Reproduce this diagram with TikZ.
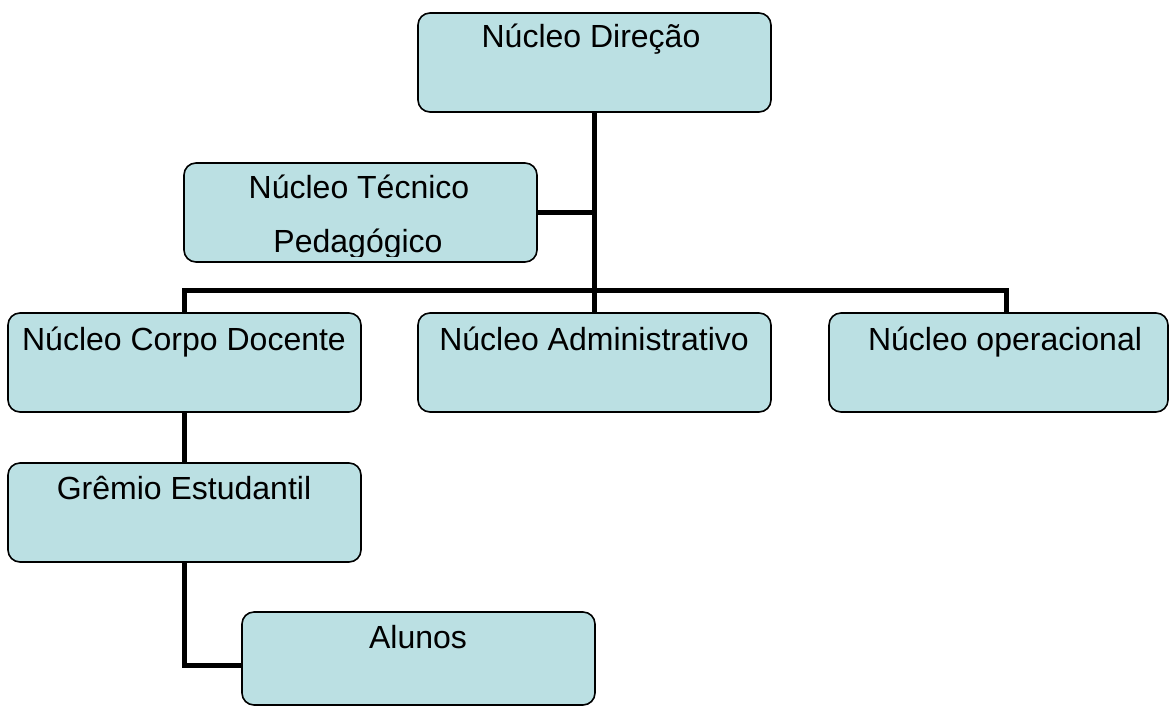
\documentclass[tikz,border=0pt]{standalone}
\usepackage{fontspec}
\setmainfont{Liberation Sans}
\usetikzlibrary{fit}
\definecolor{boxfill}{RGB}{187,224,227}
\begin{document}
\begin{tikzpicture}[x=0.5pt,y=-0.5pt,
  box/.style={draw=black, line width=0.8pt, fill=boxfill, rounded corners=6pt, inner sep=0pt},
  lbl/.style={font=\fontsize{16}{19}\selectfont, anchor=base, inner sep=0pt},
  conn/.style={line width=2.5pt, line join=miter}]
\useasboundingbox (0,0) rectangle (1170,707);
% boxes
\node[box, fit={(418,13) (771,112)}] (dir) {};
\node[box, fit={(184,163) (537,262)}] (tec) {};
\node[box, fit={(8,313) (361,412)}] (cd) {};
\node[box, fit={(418,313) (771,412)}] (adm) {};
\node[box, fit={(829,313) (1168,412)}] (op) {};
\node[box, fit={(8,463) (361,562)}] (gr) {};
\node[box, fit={(242,612) (595,705)}] (al) {};
% texts
\node[lbl] (dirT) at (591,47) {Núcleo Direção};
\node[lbl] (tecT1) at (359,198) {Núcleo Técnico};
\begin{scope}
  \clip (184,163) rectangle (537,256.5);
  \node[lbl] (tecT2) at (358,252) {Pedagógico};
\end{scope}
\node[lbl] (cdT) at (184,350) {Núcleo Corpo Docente};
\node[lbl] (admT) at (594,350) {Núcleo Administrativo};
\node[lbl] (opT) at (1005,350) {Núcleo operacional};
\node[lbl] (grT) at (184,499) {Grêmio Estudantil};
\node[lbl] (alT) at (418,648) {Alunos};
% connectors
\coordinate (hub) at (594.5,290);
\coordinate (opdrop) at (1006,290);
\coordinate (alin) at (242,665);
\draw[conn] (dir.south) -- (hub);
\draw[conn] (tec.east) -- (tec.east -| hub);
\draw[conn] (cd.north) -- (cd.north |- hub) -- (opdrop) -- (opdrop |- op.north);
\draw[conn] (hub) -- (adm.north);
\draw[conn] (cd.south) -- (gr.north);
\draw[conn] (gr.south) -- (gr.south |- alin) -- (alin);
\end{tikzpicture}
\end{document}
